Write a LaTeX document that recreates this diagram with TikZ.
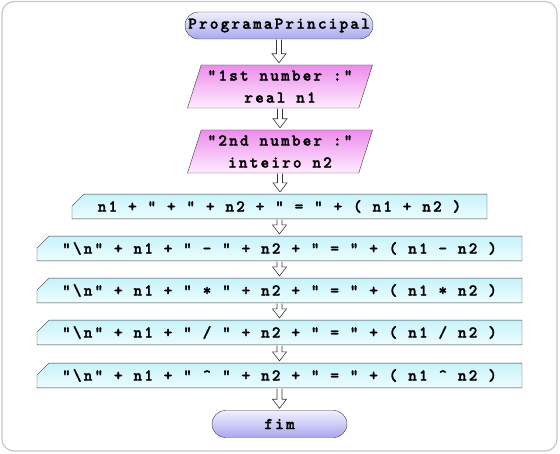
\documentclass[tikz,border=0pt]{standalone}
\usepackage{fontspec}
\newfontfamily\codefont{lmmonolt10-bold.otf}[LetterSpace=13, FakeBold=1.6]
\usetikzlibrary{shapes.geometric,shapes.misc,calc}

\definecolor{termtop}{RGB}{240,240,255}
\definecolor{termbot}{RGB}{168,168,238}
\definecolor{iotop}{RGB}{236,140,236}
\definecolor{iobot}{RGB}{255,236,255}
\definecolor{proctop}{RGB}{200,243,250}
\definecolor{procbot}{RGB}{236,253,255}
\definecolor{edgecol}{RGB}{55,55,55}

\tikzset{
  code/.style={font=\codefont\fontsize{16.5}{22}\selectfont, text=black},
  terminal/.style={code, draw=edgecol, rounded corners=13.5pt, minimum width=188pt,
    minimum height=27pt, inner sep=0pt, top color=termtop, bottom color=termbot},
  inout/.style={code, draw=edgecol, trapezium, trapezium left angle=67,
    trapezium right angle=113, trapezium stretches body, minimum width=185pt,
    minimum height=43pt, inner sep=0pt, align=center, top color=iotop, bottom color=iobot},
  process/.style={code, draw=edgecol, chamfered rectangle, chamfered rectangle corners=north west,
    chamfered rectangle xsep=6pt, chamfered rectangle ysep=6pt, minimum height=19pt,
    inner sep=0pt, top color=proctop, bottom color=procbot},
  flowline/.style={draw=edgecol, fill=white, line width=0.6pt}
}

% hollow flow arrow from one node to the next
\newcommand{\flowarrow}[2]{%
  \draw[flowline] let \p1=(#1.south), \p2=(#2.north) in
    (\x1-2.5pt,\y1-0.5pt) -- (\x1-2.5pt,\y2+11pt) -- (\x1-7pt,\y2+11pt) -- (\x1,\y2+2pt)
    -- (\x1+7pt,\y2+11pt) -- (\x1+2.5pt,\y2+11pt) -- (\x1+2.5pt,\y1-0.5pt);}

\begin{document}
\begin{tikzpicture}[x=1pt, y=-1pt]
  \useasboundingbox (0,0) rectangle (560,454);
  \draw[gray!45, line width=1.2pt, rounded corners=12pt] (2,1.5) rectangle (557,451);

  \node[terminal] (start) at (279,25.5) {ProgramaPrincipal};
  \node[inout] (in1) at (280,86.5) {"1st number :"\\real n1};
  \node[inout] (in2) at (280,151.5) {"2nd number :"\\inteiro n2};
  \node[process, minimum width=415pt] (sum) at (279.5,206.5) {n1 + " + " + n2 + " = " + ( n1 + n2 )};
  \node[process, minimum width=485pt] (dif) at (279.5,248.5) {"\textbackslash n" + n1 + " - " + n2 + " = " + ( n1 - n2 )};
  \node[process, minimum width=485pt] (mul) at (279.5,290.5) {"\textbackslash n" + n1 + " * " + n2 + " = " + ( n1 * n2 )};
  \node[process, minimum width=485pt] (quo) at (279.5,332.5) {"\textbackslash n" + n1 + " / " + n2 + " = " + ( n1 / n2 )};
  \node[process, minimum width=485pt] (pot) at (279.5,375.5) {"\textbackslash n" + n1 + " \textasciicircum{} " + n2 + " = " + ( n1 \textasciicircum{} n2 )};
  \node[terminal, minimum width=135pt] (fim) at (279.5,424) {fim};

  \flowarrow{start}{in1}
  \flowarrow{in1}{in2}
  \flowarrow{in2}{sum}
  \flowarrow{sum}{dif}
  \flowarrow{dif}{mul}
  \flowarrow{mul}{quo}
  \flowarrow{quo}{pot}
  \flowarrow{pot}{fim}
\end{tikzpicture}
\end{document}
